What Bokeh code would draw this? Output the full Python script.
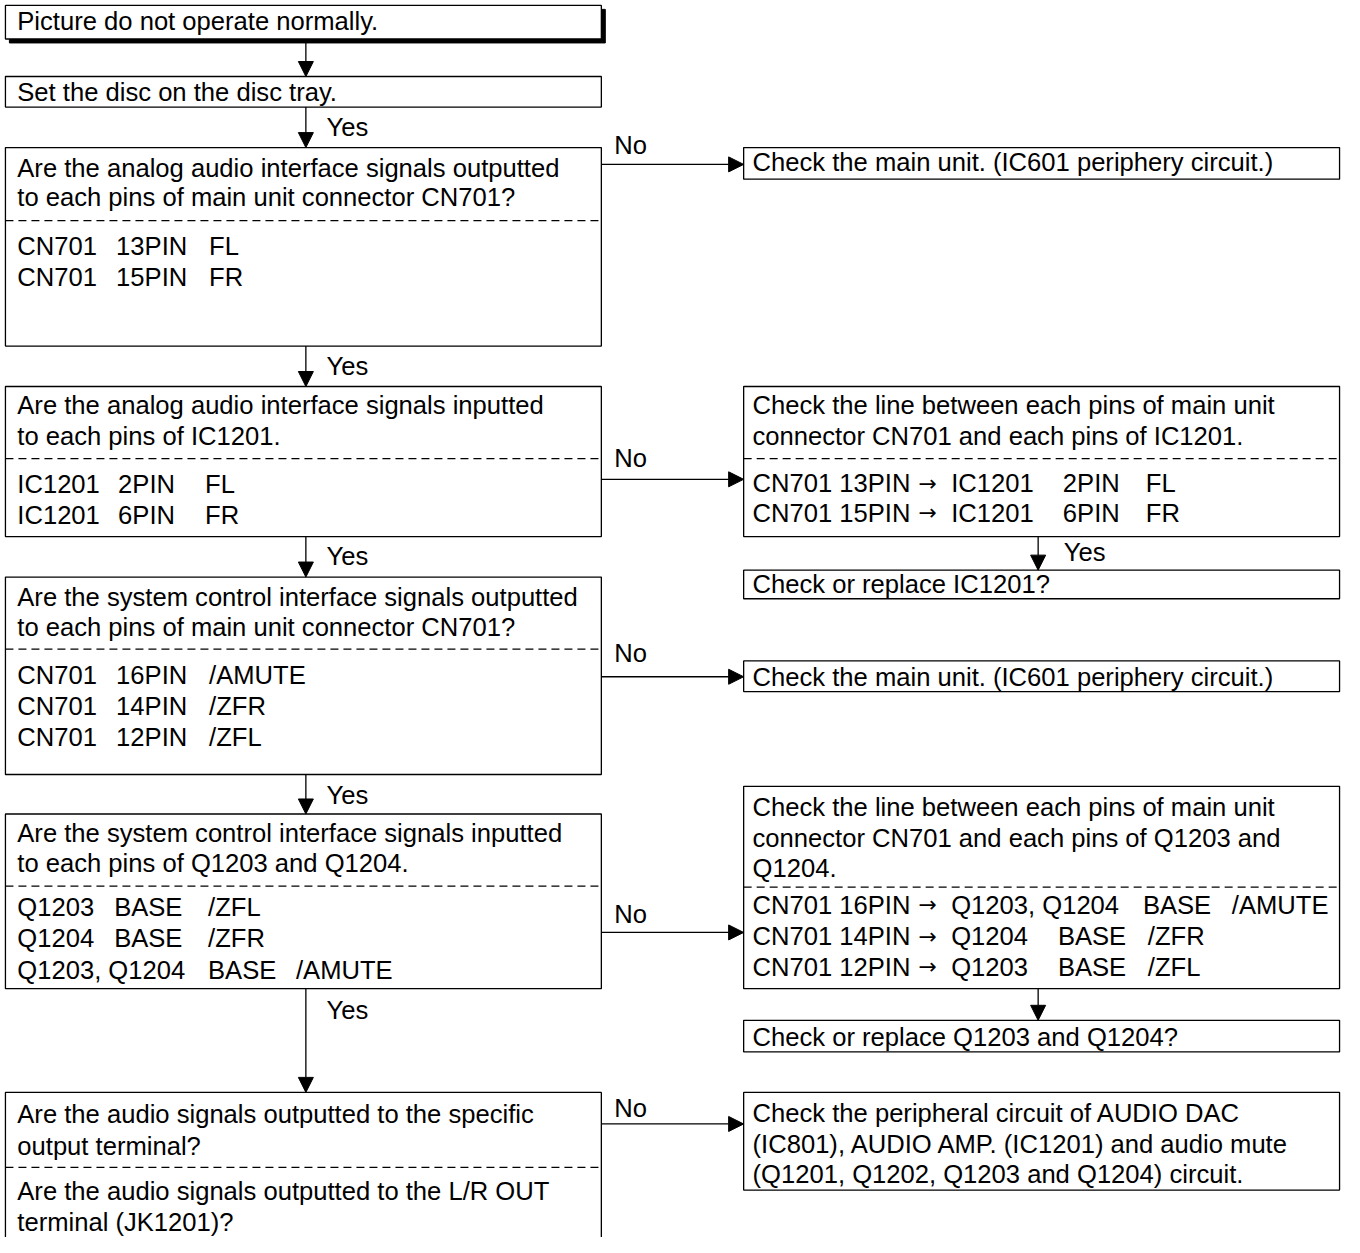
from bokeh.plotting import figure
from bokeh.models import Range1d, Arrow, NormalHead, ColumnDataSource
from bokeh.core.properties import value
from bokeh.embed import file_html
from bokeh.resources import INLINE

# ---------------- content ----------------
start_text = ["Picture do not operate normally."]
step1_text = ["Set the disc on the disc tray."]

q1_top = ["Are the analog audio interface signals outputted",
          "to each pins of main unit connector CN701?"]
q1_rows = [["CN701", "13PIN", "FL"], ["CN701", "15PIN", "FR"]]
q1_no = ["Check the main unit. (IC601 periphery circuit.)"]

q2_top = ["Are the analog audio interface signals inputted",
          "to each pins of IC1201."]
q2_rows = [["IC1201", "2PIN", "FL"], ["IC1201", "6PIN", "FR"]]
q2_no_top = ["Check the line between each pins of main unit",
             "connector CN701 and each pins of IC1201."]
q2_no_rows = [["CN701 13PIN", "\u2192", "IC1201", "2PIN", "FL"],
              ["CN701 15PIN", "\u2192", "IC1201", "6PIN", "FR"]]
q2_no_next = ["Check or replace IC1201?"]

q3_top = ["Are the system control interface signals outputted",
          "to each pins of main unit connector CN701?"]
q3_rows = [["CN701", "16PIN", "/AMUTE"], ["CN701", "14PIN", "/ZFR"], ["CN701", "12PIN", "/ZFL"]]
q3_no = ["Check the main unit. (IC601 periphery circuit.)"]

q4_top = ["Are the system control interface signals inputted",
          "to each pins of Q1203 and Q1204."]
q4_rows = [["Q1203", "BASE", "/ZFL"], ["Q1204", "BASE", "/ZFR"]]
q4_row3 = ["Q1203, Q1204", "BASE", "/AMUTE"]
q4_no_top = ["Check the line between each pins of main unit",
             "connector CN701 and each pins of Q1203 and",
             "Q1204."]
q4_no_row1 = ["CN701 16PIN", "\u2192", "Q1203, Q1204", "BASE", "/AMUTE"]
q4_no_rows = [["CN701 14PIN", "\u2192", "Q1204", "BASE", "/ZFR"],
              ["CN701 12PIN", "\u2192", "Q1203", "BASE", "/ZFL"]]
q4_no_next = ["Check or replace Q1203 and Q1204?"]

q5_top = ["Are the audio signals outputted to the specific",
          "output terminal?"]
q5_bottom = ["Are the audio signals outputted to the L/R OUT",
             "terminal (JK1201)?"]
q5_no = ["Check the peripheral circuit of AUDIO DAC",
         "(IC801), AUDIO AMP. (IC1201) and audio mute",
         "(Q1201, Q1202, Q1203 and Q1204) circuit."]

yes_label = "Yes"
no_label = "No"

# ---------------- figure ----------------
W, H = 1344, 1237
p = figure(width=W, height=H, output_backend="svg", toolbar_location=None,
           x_range=Range1d(0, 1360), y_range=Range1d(1253, 0),
           min_border=0, outline_line_color=None)
p.axis.visible = False
p.grid.visible = False
p.background_fill_color = "white"

FONT = value("Liberation Sans")
AFONT = value("DejaVu Sans")
FS = "25.6px"
LW = 1.3

LX0, LX1 = 5, 608      # left column
RX0, RX1 = 752, 1355   # right column
LTX, RTX = 17, 761     # text x
CX_L, CX_R = 309, 1050  # arrow x

boxes = []   # (x0, y0, x1, y1)
dashes = []  # (x0, x1, y)
texts = []   # (x, y, s)
arrow_glyphs = []  # (x, y)


def add_box(x0, y0, x1, y1):
    boxes.append((x0, y0, x1, y1))


def add_lines(x, ys, lines):
    for y, s in zip(ys, lines):
        texts.append((x, y, s))


def add_rows(xs, ys, rows):
    for y, row in zip(ys, rows):
        for x, s in zip(xs, row):
            if s == "\u2192":
                arrow_glyphs.append((x, y))
            else:
                texts.append((x, y, s))


# shadow of start box
p.quad(left=[LX0 + 4], right=[LX1 + 4], top=[5 + 4], bottom=[39 + 4],
       fill_color="black", line_color="black")

# start box
add_box(LX0, 5, LX1, 39)
add_lines(LTX, [21], start_text)
add_box(LX0, 77, LX1, 108)
add_lines(LTX, [93], step1_text)

LCOLS = [LTX, 117, 211]

# Q1
add_box(LX0, 149, LX1, 350)
add_lines(LTX, [170, 199], q1_top)
dashes.append((LX0, LX1, 223))
add_rows(LCOLS, [249, 280], q1_rows)
add_box(RX0, 149, RX1, 181)
add_lines(RTX, [164], q1_no)

# Q2
add_box(LX0, 391, LX1, 543)
add_lines(LTX, [410, 441], q2_top)
dashes.append((LX0, LX1, 464))
add_rows([LTX, 119, 207], [490, 521], q2_rows)
add_box(RX0, 391, RX1, 543)
add_lines(RTX, [410, 441], q2_no_top)
dashes.append((RX0, RX1, 464))
add_rows([RTX, 929, 962, 1075, 1159], [489, 519], q2_no_rows)
add_box(RX0, 577, RX1, 606)
add_lines(RTX, [591], q2_no_next)

# Q3
add_box(LX0, 584, LX1, 784)
add_lines(LTX, [604, 635], q3_top)
dashes.append((LX0, LX1, 657))
add_rows(LCOLS, [683, 715, 746], q3_rows)
add_box(RX0, 669, RX1, 700)
add_lines(RTX, [685], q3_no)

# Q4
add_box(LX0, 824, LX1, 1001)
add_lines(LTX, [843, 874], q4_top)
dashes.append((LX0, LX1, 897))
add_rows([LTX, 115, 210], [918, 950], q4_rows)
add_rows([LTX, 210, 299], [982], [q4_row3])
add_box(RX0, 796, RX1, 1001)
add_lines(RTX, [817, 848, 879], q4_no_top)
dashes.append((RX0, RX1, 898))
add_rows([RTX, 929, 962, 1156, 1246], [916], [q4_no_row1])
add_rows([RTX, 929, 962, 1070, 1161], [948, 979], q4_no_rows)
add_box(RX0, 1033, RX1, 1065)
add_lines(RTX, [1050], q4_no_next)

# Q5
add_box(LX0, 1106, LX1, 1270)
add_lines(LTX, [1128, 1160], q5_top)
dashes.append((LX0, LX1, 1182))
add_lines(LTX, [1206, 1237], q5_bottom)
add_box(RX0, 1106, RX1, 1205)
add_lines(RTX, [1127, 1158, 1189], q5_no)

bsrc = ColumnDataSource(dict(l=[b[0] for b in boxes], t=[b[1] for b in boxes],
                             r=[b[2] for b in boxes], b=[b[3] for b in boxes]))
p.quad(left="l", right="r", top="t", bottom="b", source=bsrc,
       fill_color="white", line_color="black", line_width=LW)

p.segment(x0=[d[0] for d in dashes], x1=[d[1] for d in dashes],
          y0=[d[2] for d in dashes], y1=[d[2] for d in dashes],
          line_color="black", line_width=1.2, line_dash="8 5")

tsrc = ColumnDataSource(dict(x=[t[0] for t in texts], y=[t[1] for t in texts],
                             s=[t[2] for t in texts]))
p.text(x="x", y="y", text="s", source=tsrc, text_font=FONT, text_font_size=FS,
       text_baseline="middle", text_align="left", text_color="black")

p.text(x=[a[0] for a in arrow_glyphs], y=[a[1] for a in arrow_glyphs],
       text=["\u2192"] * len(arrow_glyphs), text_font=AFONT, text_font_size="22px",
       text_baseline="middle", text_align="left", text_color="black")

# arrows
down_arrows = [(CX_L, 39, 77), (CX_L, 108, 149), (CX_L, 350, 391), (CX_L, 543, 584),
               (CX_L, 784, 824), (CX_L, 1001, 1106), (CX_R, 543, 577), (CX_R, 1001, 1033)]
for x, y0, y1 in down_arrows:
    p.add_layout(Arrow(x_start=x, y_start=y0, x_end=x, y_end=y1, line_width=LW,
                       end=NormalHead(size=15, fill_color="black", line_color="black",
                                      line_width=1)))
no_ys = [166, 485, 685, 944, 1138]
for y in no_ys:
    p.add_layout(Arrow(x_start=LX1, y_start=y, x_end=RX0, y_end=y, line_width=LW,
                       end=NormalHead(size=15, fill_color="black", line_color="black",
                                      line_width=1)))

yes_pos = [(330, 128), (330, 370), (330, 563), (330, 805), (330, 1023), (1076, 559)]
no_pos = [(621, 146), (621, 463), (621, 661), (621, 925), (621, 1122)]
p.text(x=[a for a, _ in yes_pos], y=[b for _, b in yes_pos], text=[yes_label] * len(yes_pos),
       text_font=FONT, text_font_size=FS, text_baseline="middle", text_color="black")
p.text(x=[a for a, _ in no_pos], y=[b for _, b in no_pos], text=[no_label] * len(no_pos),
       text_font=FONT, text_font_size=FS, text_baseline="middle", text_color="black")

open("out.html", "w").write(file_html(p, INLINE))
